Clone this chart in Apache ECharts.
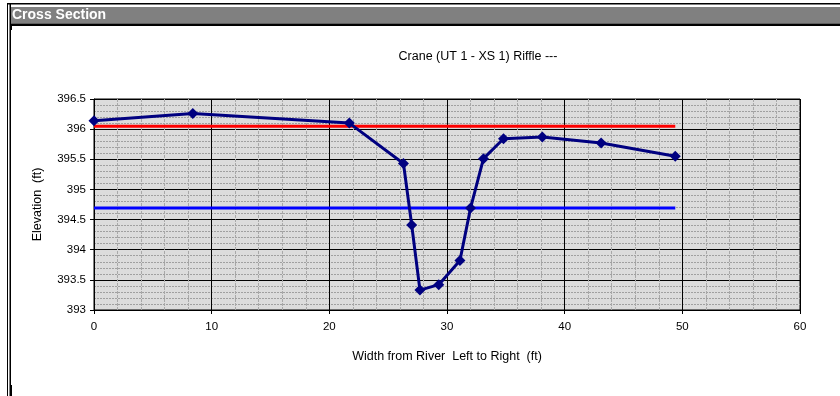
<!DOCTYPE html>
<html>
<head>
<meta charset="utf-8">
<script src="https://cdn.jsdelivr.net/npm/echarts@6/dist/echarts.min.js"></script>
<style>
html,body{margin:0;padding:0;background:#fff;}
#chart{width:840px;height:396px;}
</style>
</head>
<body>
<div id="chart"></div>
<script>
// Data
const stations = [0, 8.4, 21.7, 26.3, 27.0, 27.7, 29.3, 31.1, 32.0, 33.1, 34.8, 38.1, 43.1, 49.4];
const elevations = [396.14, 396.26, 396.10, 395.43, 394.41, 393.33, 393.42, 393.82, 394.69, 395.51, 395.84, 395.87, 395.77, 395.55];
const bankfullX = [0, 49.4];
const bankfullY = [396.05, 396.05];
const waterX = [0, 49.4];
const waterY = [394.69, 394.69];
const chartTitle = 'Crane (UT 1 - XS 1) Riffle ---';
const headerText = 'Cross Section';
const xName = 'Width from River  Left to Right  (ft)';
const yName = 'Elevation  (ft)';

const pairs = (xs, ys) => xs.map((x, i) => [x, ys[i]]);
const font = 'Arial, "Liberation Sans", sans-serif';

const chart = echarts.init(document.getElementById('chart'), null, {renderer: 'canvas'});
chart.setOption({
  animation: false,
  backgroundColor: '#fff',
  grid: {
    left: 94, right: 40, top: 99, bottom: 86,
    show: true, backgroundColor: '#DCDCDC', borderColor: '#000', borderWidth: 1
  },
  xAxis: {
    type: 'value', min: 0, max: 60, interval: 10,
    name: xName, nameLocation: 'middle', nameGap: 40,
    nameTextStyle: {fontFamily: font, fontSize: 12.5, color: '#000'},
    axisLine: {show: true, lineStyle: {color: '#000', width: 1}},
    axisTick: {show: true, length: 4, lineStyle: {color: '#000'}},
    axisLabel: {fontFamily: font, fontSize: 11.5, color: '#000', margin: 11},
    splitLine: {show: true, lineStyle: {color: '#000', width: 1}},
    minorTick: {show: false, splitNumber: 5},
    minorSplitLine: {show: true, lineStyle: {color: '#A8A8A8', width: 1, type: [3, 1]}}
  },
  yAxis: {
    type: 'value', min: 393, max: 396.5, interval: 0.5,
    name: yName, nameLocation: 'middle', nameGap: 50,
    nameTextStyle: {fontFamily: font, fontSize: 12.5, color: '#000'},
    axisLine: {show: true, lineStyle: {color: '#000', width: 1}},
    axisTick: {show: true, length: 4, lineStyle: {color: '#000'}},
    axisLabel: {fontFamily: font, fontSize: 11.5, color: '#000', margin: 8},
    splitLine: {show: true, lineStyle: {color: '#000', width: 1}},
    minorTick: {show: false, splitNumber: 5},
    minorSplitLine: {show: true, lineStyle: {color: '#A0A0A0', width: 1, type: [2, 1]}}
  },
  series: [
    {
      type: 'line', data: pairs(bankfullX, bankfullY), symbol: 'none',
      lineStyle: {color: '#FF0000', width: 3}, z: 3
    },
    {
      type: 'line', data: pairs(waterX, waterY), symbol: 'none',
      lineStyle: {color: '#0000FF', width: 3}, z: 3
    },
    {
      type: 'line', data: pairs(stations, elevations),
      symbol: 'diamond', symbolSize: 11,
      itemStyle: {color: '#000080'},
      lineStyle: {color: '#000080', width: 3}, z: 4
    }
  ],
  graphic: [
    {type: 'rect', shape: {x: 7, y: 3, width: 833, height: 1.5}, style: {fill: '#000'}},
    {type: 'rect', shape: {x: 7, y: 3, width: 1, height: 393}, style: {fill: '#000'}},
    {type: 'rect', shape: {x: 9.5, y: 3, width: 1.5, height: 393}, style: {fill: '#000'}},
    {type: 'rect', shape: {x: 11, y: 7, width: 829, height: 16.5}, style: {fill: '#808080'}},
    {type: 'rect', shape: {x: 11, y: 23.5, width: 829, height: 2.5}, style: {fill: '#000'}},
    {type: 'rect', shape: {x: 10, y: 26, width: 2, height: 4}, style: {fill: '#000'}},
    {type: 'rect', shape: {x: 10, y: 385, width: 2, height: 11}, style: {fill: '#000'}},
    {type: 'text', x: 12, y: 15, style: {text: headerText, fill: '#fff', font: 'bold 14px ' + font, textVerticalAlign: 'middle'}},
    {type: 'text', x: 478, y: 57, style: {text: chartTitle, fill: '#000', font: '12.5px ' + font, textAlign: 'center', textVerticalAlign: 'middle'}}
  ]
});
</script>
</body>
</html>
